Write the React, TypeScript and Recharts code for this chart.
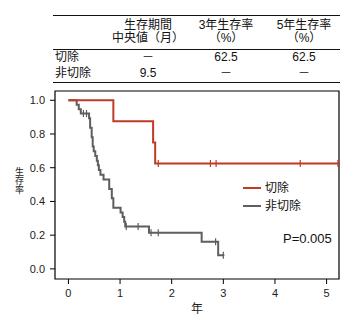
import { ComposedChart, Line, Scatter, XAxis, YAxis, ReferenceArea } from "recharts";

// 切除 (resection)
const resectTimes = [0, 0.87, 1.64, 1.68, 5.24];
const resectSurv = [1.0, 0.875, 0.75, 0.625, 0.625];
const resectCensorTimes = [1.74, 2.75, 2.86, 4.49, 5.22];
const resectCensorSurv = [0.625, 0.625, 0.625, 0.625, 0.625];

// 非切除 (no resection)
const nonResectTimes = [0, 0.16, 0.2, 0.24, 0.4, 0.42, 0.45, 0.47, 0.49, 0.52, 0.55, 0.57, 0.59, 0.62, 0.68, 0.79, 0.84, 0.87, 1.01, 1.05, 1.08, 1.1, 1.56, 2.58, 2.9, 3.02];
const nonResectSurv = [1.0, 0.974, 0.947, 0.921, 0.893, 0.837, 0.781, 0.726, 0.698, 0.67, 0.642, 0.614, 0.586, 0.558, 0.53, 0.474, 0.419, 0.363, 0.335, 0.307, 0.279, 0.251, 0.215, 0.161, 0.081, 0.081];
const nonResectCensorTimes = [0.29, 0.35, 1.12, 1.35, 1.6, 1.74, 2.85, 3.0];
const nonResectCensorSurv = [0.921, 0.921, 0.251, 0.251, 0.215, 0.215, 0.161, 0.081];

const xTicks = [0, 1, 2, 3, 4, 5];
const yTicks = [0, 0.2, 0.4, 0.6, 0.8, 1.0];

// table
const colHead1 = ["生存期間", "3年生存率", "5年生存率"];
const colHead2 = ["中央値（月）", "（%）", "（%）"];
const groupNames = ["切除", "非切除"];
const resectRow = ["－", "62.5", "62.5"];
const nonResectRow = ["9.5", "－", "－"];
const pValue = "P=0.005";

const RED = "#c03a26";
const GRAY = "#5e5e5e";
const FONT = '"Liberation Sans", Arial, "Noto Sans CJK JP", sans-serif';

const zip = (ts: number[], ss: number[]) => ts.map((t, i) => ({ t, s: ss[i] }));

const resectData = zip(resectTimes, resectSurv);
const resectCensor = zip(resectCensorTimes, resectCensorSurv);
const nonResectData = zip(nonResectTimes, nonResectSurv);
const nonResectCensor = zip(nonResectCensorTimes, nonResectCensorSurv);

const tick = (color: string) => (props: any) => (
  <line x1={props.cx} x2={props.cx} y1={props.cy - 3.5} y2={props.cy + 3.5} stroke={color} strokeWidth={1.2} />
);

const colX = [148, 226, 304];

function Cell({ x, y, text, left }: { x: number; y: number; text: string; left?: boolean }) {
  return (
    <div
      style={{
        position: "absolute",
        left: left ? x : x - 60,
        width: left ? undefined : 120,
        top: y - 8,
        height: 16,
        lineHeight: "16px",
        textAlign: left ? "left" : "center",
        whiteSpace: "nowrap",
      }}
    >
      {text}
    </div>
  );
}

function YLabel({ viewBox }: any) {
  const cx = 19.5;
  const cy = viewBox.y + viewBox.height / 2 - 6;
  const chars = "生存率".split("");
  return (
    <text x={cx} y={cy} textAnchor="middle" fontSize={9} fill="#222" fontFamily={FONT}>
      {chars.map((c, i) => (
        <tspan key={i} x={cx} y={cy - 4.5 + i * 9}>
          {c}
        </tspan>
      ))}
    </text>
  );
}

export default function App() {
  const hLine = (top: number) => (
    <div style={{ position: "absolute", left: 53, width: 287, top, height: 1, background: "#111" }} />
  );
  return (
    <div style={{ position: "absolute", left: 0, top: 0, width: 357, height: 327, fontFamily: FONT, color: "#111", fontSize: 12, background: "#fff" }}>
      <ComposedChart width={357} height={327} margin={{ top: 91, right: 18, bottom: 14, left: 0 }} style={{ position: "absolute", left: 0, top: 0 }}>
        <XAxis
          dataKey="t"
          type="number"
          domain={[-0.26, 5.24]}
          ticks={xTicks}
          allowDataOverflow
          axisLine={false}
          tickLine={{ stroke: "#000" }}
          tickSize={5}
          tickMargin={5}
          height={34}
          tick={{ fontSize: 11, fill: "#222", fontFamily: FONT }}
          label={{ value: "年", position: "insideBottom", offset: 0, fontSize: 12, fill: "#222", fontFamily: FONT }}
        />
        <YAxis
          dataKey="s"
          type="number"
          domain={[-0.06, 1.055]}
          ticks={yTicks}
          allowDataOverflow
          axisLine={false}
          tickLine={{ stroke: "#000" }}
          tickSize={5}
          tickMargin={5}
          width={55}
          tickFormatter={(v: number) => v.toFixed(1)}
          tick={{ fontSize: 11, fill: "#222", fontFamily: FONT }}
          label={<YLabel />}
        />
        <ReferenceArea x1={-0.26} x2={5.24} y1={-0.06} y2={1.055} fill="none" stroke="#000" strokeWidth={1.2} ifOverflow="visible" />
        <Line data={nonResectData} dataKey="s" type="stepAfter" stroke={GRAY} strokeWidth={2} dot={false} isAnimationActive={false} />
        <Scatter data={nonResectCensor} dataKey="s" shape={tick(GRAY)} isAnimationActive={false} />
        <Line data={resectData} dataKey="s" type="stepAfter" stroke={RED} strokeWidth={2} dot={false} isAnimationActive={false} />
        <Scatter data={resectCensor} dataKey="s" shape={tick(RED)} isAnimationActive={false} />
      </ComposedChart>

      {hLine(15)}
      {hLine(49)}
      {hLine(82)}
      {colHead1.map((h, i) => (
        <Cell key={"a" + i} x={colX[i]} y={25} text={h} />
      ))}
      {colHead2.map((h, i) => (
        <Cell key={"b" + i} x={colX[i]} y={38} text={h} />
      ))}
      <Cell x={55} y={57} text={groupNames[0]} left />
      <Cell x={55} y={73} text={groupNames[1]} left />
      {resectRow.map((v, i) => (
        <Cell key={"r" + i} x={colX[i]} y={57} text={v} />
      ))}
      {nonResectRow.map((v, i) => (
        <Cell key={"n" + i} x={colX[i]} y={73} text={v} />
      ))}

      {/* legend */}
      <div style={{ position: "absolute", left: 243, top: 187, width: 18, height: 2, background: RED }} />
      <div style={{ position: "absolute", left: 265, top: 180, lineHeight: "16px" }}>{groupNames[0]}</div>
      <div style={{ position: "absolute", left: 243, top: 204.5, width: 18, height: 2, background: GRAY }} />
      <div style={{ position: "absolute", left: 265, top: 197.5, lineHeight: "16px" }}>{groupNames[1]}</div>

      <div style={{ position: "absolute", left: 283, top: 231, lineHeight: "16px", fontSize: 13 }}>{pValue}</div>
    </div>
  );
}
